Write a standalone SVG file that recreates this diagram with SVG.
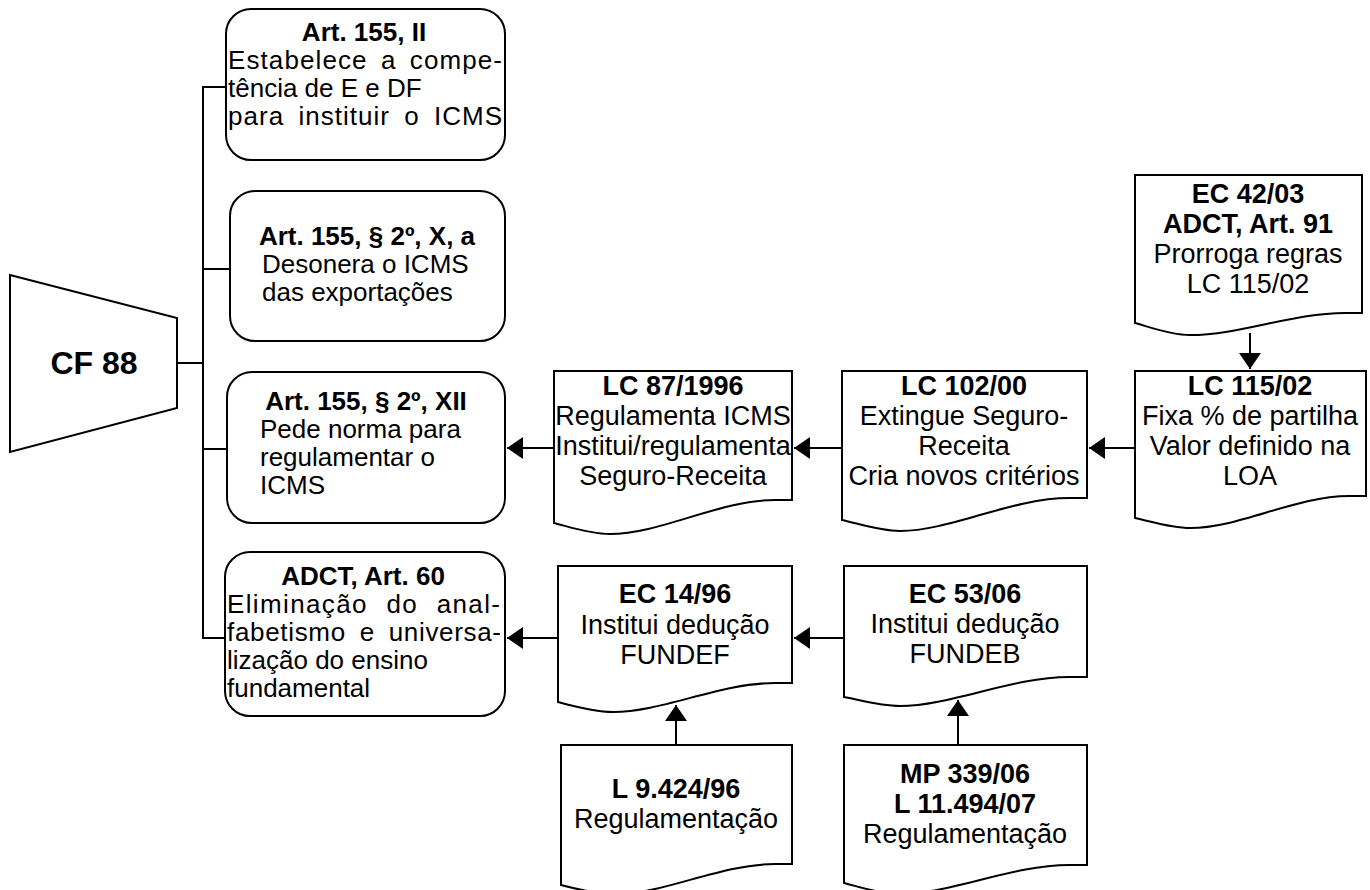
<svg xmlns="http://www.w3.org/2000/svg" width="1370" height="890" viewBox="0 0 1370 890">
<style>
.shape{fill:#fff;stroke:#000;stroke-width:2}
.ln{fill:none;stroke:#000;stroke-width:2}
text{font-family:"Liberation Sans",Arial,sans-serif;font-size:26px;fill:#000}
.d text{font-size:27px}
.b{font-weight:bold}
.c{text-anchor:middle}
</style>
<defs>
<marker id="ah" markerUnits="userSpaceOnUse" markerWidth="18" markerHeight="24" refX="16" refY="11" orient="auto">
<path d="M0,0 L16,11 L0,22 Z" fill="#000"/>
</marker>
</defs>
<g id="connectors">
<path class="ln" d="M226,87 H203 V638 H225"/>
<path class="ln" d="M177,363 H203"/>
<path class="ln" d="M203,269 H230"/>
<path class="ln" d="M203,449 H227"/>
<path class="ln" d="M554,448 H507" marker-end="url(#ah)"/>
<path class="ln" d="M842,448 H794" marker-end="url(#ah)"/>
<path class="ln" d="M1135,448 H1089" marker-end="url(#ah)"/>
<path class="ln" d="M1250,333 V369" marker-end="url(#ah)"/>
<path class="ln" d="M558,638 H507" marker-end="url(#ah)"/>
<path class="ln" d="M844,638 H794" marker-end="url(#ah)"/>
<path class="ln" d="M676,745 V705" marker-end="url(#ah)"/>
<path class="ln" d="M958,745 V700" marker-end="url(#ah)"/>
</g>
<g id="cf88">
<path class="shape" d="M10,275 L177,318 L177,408 L10,452 Z"/>
<text class="b c" x="94" y="374" style="font-size:32px">CF 88</text>
</g>
<g id="art155-ii">
<rect class="shape" x="226" y="9" width="279" height="151" rx="25"/>
<text class="b c" x="364" y="41">Art. 155, II</text>
<text x="228" y="69" word-spacing="5" textLength="274" lengthAdjust="spacing">Estabelece a compe-</text>
<text x="228" y="97">tência de E e DF</text>
<text x="228" y="125" word-spacing="6" textLength="274" lengthAdjust="spacing">para instituir o ICMS</text>
</g>
<g id="art155-xa">
<rect class="shape" x="230" y="191" width="275" height="150" rx="25"/>
<text class="b c" x="367" y="245">Art. 155, § 2º, X, a</text>
<text x="262" y="273">Desonera o ICMS</text>
<text x="262" y="301">das exportações</text>
</g>
<g id="art155-xii">
<rect class="shape" x="227" y="372" width="278" height="151" rx="25"/>
<text class="b c" x="366" y="410">Art. 155, § 2º, XII</text>
<text x="260" y="438">Pede norma para</text>
<text x="260" y="466">regulamentar o</text>
<text x="260" y="494">ICMS</text>
</g>
<g id="adct60">
<rect class="shape" x="225" y="552" width="280" height="164" rx="25"/>
<text class="b c" x="363" y="585">ADCT, Art. 60</text>
<text x="227" y="613" word-spacing="10" textLength="273" lengthAdjust="spacing">Eliminação do anal-</text>
<text x="227" y="641" word-spacing="6" textLength="274" lengthAdjust="spacing">fabetismo e universa-</text>
<text x="227" y="669">lização do ensino</text>
<text x="227" y="697">fundamental</text>
</g>
<g id="lc87" class="d">
<path class="shape" d="M554,371 H792 V500 H775 C720,500 660,534 610,534 C590,534 570,527 554,523 Z"/>
<text class="b c" x="673" y="395">LC 87/1996</text>
<text class="c" x="673" y="425">Regulamenta ICMS</text>
<text class="c" x="673" y="455">Institui/regulamenta</text>
<text class="c" x="673" y="485">Seguro-Receita</text>
</g>
<g id="lc102" class="d">
<path class="shape" d="M842,371 H1087 V498 H1069 C1012,498 950,531 900,531 C880,531 860,524 842,520 Z"/>
<text class="b c" x="964" y="395">LC 102/00</text>
<text class="c" x="964" y="425">Extingue Seguro-</text>
<text class="c" x="964" y="455">Receita</text>
<text class="c" x="964" y="485">Cria novos critérios</text>
</g>
<g id="lc115" class="d">
<path class="shape" d="M1135,371 H1366 V496 H1349 C1295,496 1240,528 1190,528 C1170,528 1150,521 1135,518 Z"/>
<text class="b c" x="1250" y="395">LC 115/02</text>
<text class="c" x="1250" y="425">Fixa % de partilha</text>
<text class="c" x="1250" y="455">Valor definido na</text>
<text class="c" x="1250" y="485">LOA</text>
</g>
<g id="ec42" class="d">
<path class="shape" d="M1135,175 H1362 V313 H1345 C1292,313 1240,335 1190,335 C1170,335 1150,327 1135,323 Z"/>
<text class="b c" x="1248" y="203">EC 42/03</text>
<text class="b c" x="1248" y="233">ADCT, Art. 91</text>
<text class="c" x="1248" y="263">Prorroga regras</text>
<text class="c" x="1248" y="293">LC 115/02</text>
</g>
<g id="ec14" class="d">
<path class="shape" d="M558,566 H792 V683 H775 C720,683 662,712 613,712 C593,712 573,706 558,702 Z"/>
<text class="b c" x="675" y="603">EC 14/96</text>
<text class="c" x="675" y="634">Institui dedução</text>
<text class="c" x="675" y="664">FUNDEF</text>
</g>
<g id="ec53" class="d">
<path class="shape" d="M844,566 H1087 V677 H1069 C1012,677 950,706 900,706 C880,706 860,700 844,697 Z"/>
<text class="b c" x="965" y="603">EC 53/06</text>
<text class="c" x="965" y="633">Institui dedução</text>
<text class="c" x="965" y="663">FUNDEB</text>
</g>
<g id="l9424" class="d">
<path class="shape" d="M561,745 H792 V864 H775 C720,864 665,894 616,894 C596,894 576,889 561,885 Z"/>
<text class="b c" x="676" y="798">L 9.424/96</text>
<text class="c" x="676" y="828">Regulamentação</text>
</g>
<g id="mp339" class="d">
<path class="shape" d="M844,745 H1087 V865 H1069 C1012,865 950,894 900,894 C880,894 860,887 844,883 Z"/>
<text class="b c" x="965" y="783">MP 339/06</text>
<text class="b c" x="965" y="813">L 11.494/07</text>
<text class="c" x="965" y="843">Regulamentação</text>
</g>
</svg>
